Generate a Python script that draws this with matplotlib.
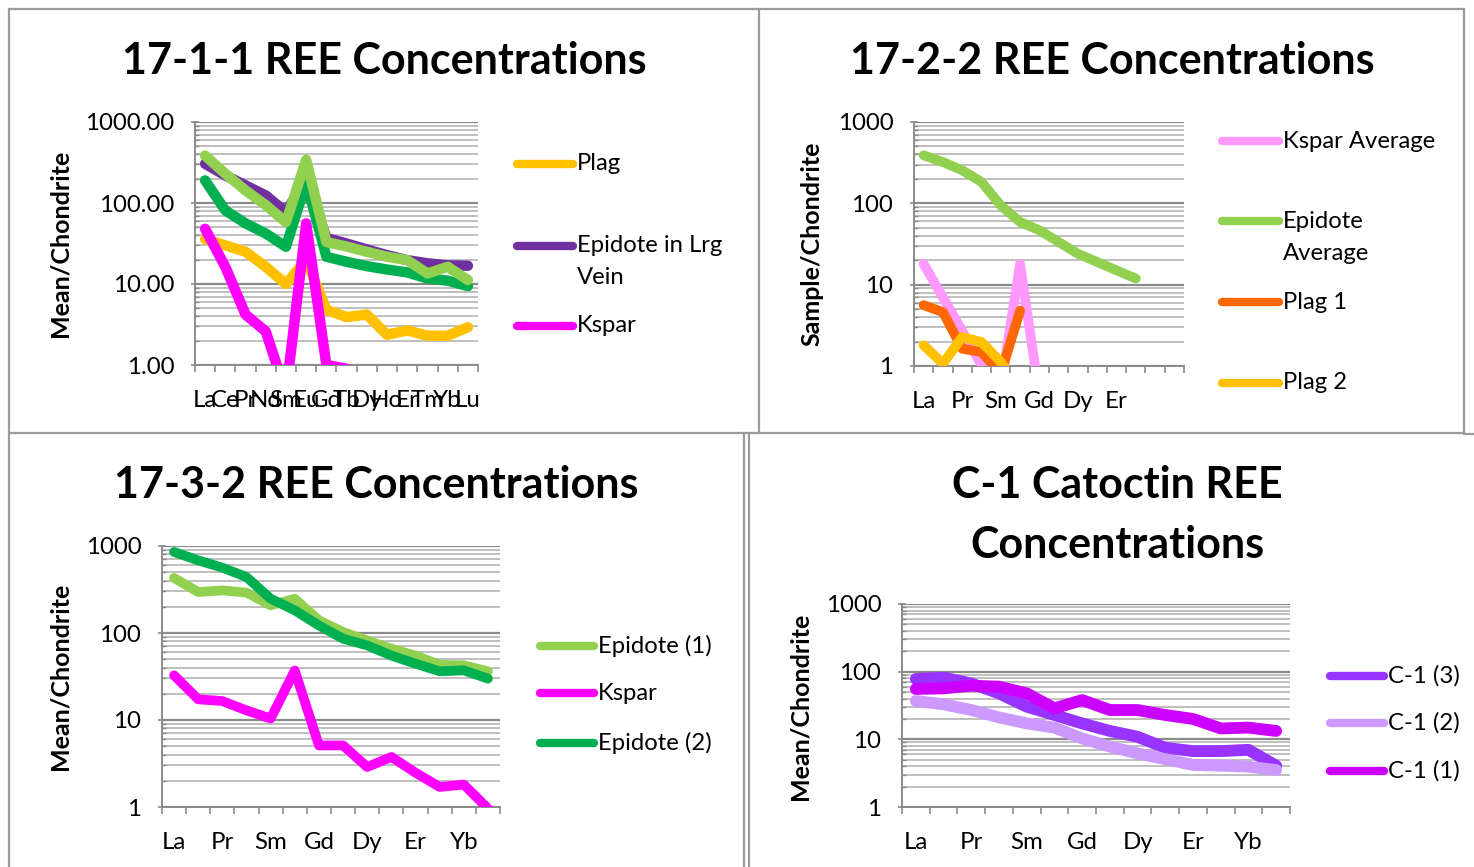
import numpy as np
import matplotlib
matplotlib.use("Agg")
import matplotlib.pyplot as plt
from matplotlib.lines import Line2D
from matplotlib.ticker import LogLocator, FixedLocator, NullFormatter

plt.rcParams['font.family'] = ['Lato', 'DejaVu Sans']

# ---------------- data ----------------
ree = ["La", "Ce", "Pr", "Nd", "Sm", "Eu", "Gd", "Tb", "Dy", "Ho", "Er", "Tm", "Yb", "Lu"]
nan = np.nan

# 17-1-1
p1_plag = [36, 30, 25, 16.3, 10, 20, 4.8, 3.9, 4.2, 2.36, 2.67, 2.3, 2.3, 2.93]
p1_epi_vein = [305, 219, 165, 124, 77, 200, 37, 31.6, 26.7, 22.7, 19.7, 18, 17, 16.8]
p1_kspar = [48, 16.3, 4.2, 2.6, 0.45, 56, 1.0, 0.9, 0.5, 0.5, 0.5, 0.5, 0.5, 0.5]
p1_epi_dark = [190, 81, 56, 42, 28.8, 181, 21.7, 18.8, 16.6, 15.1, 13.9, 11.7, 11, 9.4]
p1_epi_light = [385, 230, 143, 94, 58, 341, 33, 29, 25, 21.7, 19.7, 13.5, 16.3, 11.2]

# 17-2-2
p2_kspar_avg = [18, 7.0, 2.7, 1.03, 0.55, 18, 0.43, nan, nan, nan, nan, nan, nan, nan]
p2_epi_avg = [389, 322, 255, 183, 94, 59, 46.6, 33.5, 24, 19, 15, 11.9, nan, nan]
p2_plag1 = [5.6, 4.6, 1.63, 1.49, 0.8, 4.8, nan, nan, nan, nan, nan, nan, nan, nan]
p2_plag2 = [1.8, 1.07, 2.27, 1.97, 1.12, 0.5, nan, nan, nan, nan, nan, nan, nan, nan]

# 17-3-2
p3_epi1 = [429, 296, 309, 291, 208, 248, 140, 103, 82, 66, 55, 43, 42.5, 36.3]
p3_kspar = [32.6, 17.3, 16.5, 12.9, 10.4, 37, 5.1, 5.1, 2.88, 3.76, 2.48, 1.7, 1.81, 0.96]
p3_epi2 = [853, 684, 564, 440, 248, 182, 122, 86, 72, 55, 44.4, 36.3, 37.2, 29.9]

# C-1 Catoctin
p4_c3 = [78, 81.5, 67, 47.8, 30.4, 22.9, 17.2, 13.3, 10.9, 7.5, 6.7, 6.7, 7.0, 4.08]
p4_c2 = [36.9, 32.9, 27.1, 21.1, 17.2, 14.9, 10.3, 7.8, 6.2, 5.1, 4.18, 4.08, 3.94, 3.52]
p4_c1 = [55.5, 56.7, 62, 60, 47.8, 28.7, 38, 27.1, 27.1, 22.9, 20, 14.5, 14.9, 13.3]

W, H = 1474, 867
fig = plt.figure(figsize=(W / 100, H / 100), dpi=100)

TITLE = 31
TICK = 17.3
LEG = 17.2
YLAB = 18


def px_rect(x0, y0, x1, y1):
    return [x0 / W, 1 - y1 / H, (x1 - x0) / W, (y1 - y0) / H]


def fx(x):
    return x / W


def fy(y):
    return 1 - y / H


def draw_panel(rect, series, colors, xlabels, ylabels, lw):
    ax = fig.add_axes(px_rect(*rect))
    x = np.arange(len(ree)) + 0.5
    for vals, c in zip(series, colors):
        ax.plot(x, vals, color=c, lw=lw, solid_capstyle='round', solid_joinstyle='round', zorder=3)
    ax.set_yscale('log')
    ax.set_ylim(1, 1000)
    ax.set_xlim(0, len(ree))
    ax.set_yticks([1, 10, 100, 1000])
    ax.set_yticklabels(ylabels)
    ax.yaxis.set_minor_locator(LogLocator(base=10, subs=np.arange(2, 10)))
    ax.yaxis.set_minor_formatter(NullFormatter())
    ax.grid(True, which='major', axis='y', color='#8a8a8a', lw=1.6, zorder=1)
    ax.grid(True, which='minor', axis='y', color='#b4b4b4', lw=1.2, zorder=1)
    ax.set_xticks(x)
    ax.set_xticklabels(xlabels)
    ax.xaxis.set_minor_locator(FixedLocator(np.arange(len(ree) + 1)))
    ax.tick_params(axis='x', which='major', length=0, pad=18, labelsize=TICK)
    ax.tick_params(axis='x', which='minor', length=5, direction='out', color='#8a8a8a', width=1.2)
    ax.tick_params(axis='y', which='major', length=6, direction='inout', color='#8a8a8a', width=1.2,
                   pad=12, labelsize=TICK)
    ax.tick_params(axis='y', which='minor', length=3, direction='in', color='#8a8a8a', width=1.0)
    for s in ['top', 'right']:
        ax.spines[s].set_visible(False)
    for s in ['left', 'bottom']:
        ax.spines[s].set_color('#8a8a8a')
        ax.spines[s].set_linewidth(1.4)
    return ax


def legend(x0, x1, entries, size=LEG):
    for name, c, y in entries:
        fig.add_artist(Line2D([fx(x0), fx(x1)], [fy(y), fy(y)], color=c, lw=6,
                              solid_capstyle='round'))
        for k, part in enumerate(name.split("\n")):
            fig.text(fx(x1 + 4), fy(y + 32 * k), part, ha='left', va='center', fontsize=size)


# ---------------- panel 1 ----------------
c1 = ["#FFC000", "#7030A0", "#FF00FF", "#00B050", "#92D050"]
draw_panel((195, 122, 478, 365), [p1_plag, p1_epi_vein, p1_kspar, p1_epi_dark, p1_epi_light], c1,
           ree, ["1.00", "10.00", "100.00", "1000.00"], 7.5)
fig.text(fx(384), fy(61), "17-1-1 REE Concentrations", ha='center', va='center', fontsize=TITLE, fontweight='bold')
fig.text(fx(60), fy(243), "Mean/Chondrite", rotation=90, ha='center', va='center', fontsize=YLAB, fontweight='bold')
legend(517, 573, [("Plag", c1[0], 164), ("Epidote in Lrg\nVein", c1[1], 246), ("Kspar", c1[2], 326)])

# ---------------- panel 2 ----------------
c2 = ["#FF99FF", "#92D050", "#FF6600", "#FFC000"]
lab2 = ["La", "", "Pr", "", "Sm", "", "Gd", "", "Dy", "", "Er", "", "", ""]
draw_panel((914, 122, 1184, 366), [p2_kspar_avg, p2_epi_avg, p2_plag1, p2_plag2], c2,
           lab2, ["1", "10", "100", "1000"], 7)
fig.text(fx(1112), fy(61), "17-2-2 REE Concentrations", ha='center', va='center', fontsize=TITLE, fontweight='bold')
fig.text(fx(812), fy(244), "Sample/Chondrite", rotation=90, ha='center', va='center', fontsize=YLAB, fontweight='bold')
legend(1222, 1279, [("Kspar Average", c2[0], 141), ("Epidote\nAverage", c2[1], 221),
                    ("Plag 1", c2[2], 302), ("Plag 2", c2[3], 383)])

# ---------------- panel 3 ----------------
c3 = ["#92D050", "#FF00FF", "#00B050"]
lab3 = ["La", "", "Pr", "", "Sm", "", "Gd", "", "Dy", "", "Er", "", "Yb", ""]
draw_panel((162, 546, 500, 807), [p3_epi1, p3_kspar, p3_epi2], c3,
           lab3, ["1", "10", "100", "1000"], 7)
fig.text(fx(376), fy(485), "17-3-2 REE Concentrations", ha='center', va='center', fontsize=TITLE, fontweight='bold')
fig.text(fx(60), fy(676), "Mean/Chondrite", rotation=90, ha='center', va='center', fontsize=YLAB, fontweight='bold')
legend(540, 594, [("Epidote (1)", c3[0], 646), ("Kspar", c3[1], 693), ("Epidote (2)", c3[2], 743)])

# ---------------- panel 4 ----------------
c4 = ["#9933FF", "#CC99FF", "#CC00FF"]
draw_panel((902, 604, 1290, 807), [p4_c3, p4_c2, p4_c1], c4,
           lab3, ["1", "10", "100", "1000"], 8.5)
fig.text(fx(1117), fy(485), "C-1 Catoctin REE", ha='center', va='center', fontsize=TITLE, fontweight='bold')
fig.text(fx(1117), fy(545), "Concentrations", ha='center', va='center', fontsize=TITLE, fontweight='bold')
fig.text(fx(800), fy(706), "Mean/Chondrite", rotation=90, ha='center', va='center', fontsize=YLAB, fontweight='bold')
legend(1330, 1384, [("C-1 (3)", c4[0], 676), ("C-1 (2)", c4[1], 723), ("C-1 (1)", c4[2], 771)])

# ---------------- table borders ----------------
bc = '#9a9a9a'
borders = [
    ((9, 1464), (9, 9)),
    ((9, 1464), (433, 433)),
    ((1464, 1474), (434, 434)),
    ((9, 9), (9, 867)),
    ((759, 759), (9, 433)),
    ((1464, 1464), (9, 433)),
    ((744, 744), (433, 867)),
    ((749, 749), (433, 867)),
]
for xs, ys in borders:
    fig.add_artist(Line2D([fx(xs[0]), fx(xs[1])], [fy(ys[0]), fy(ys[1])], color=bc, lw=1.6))

fig.savefig("out.png", dpi=100)
